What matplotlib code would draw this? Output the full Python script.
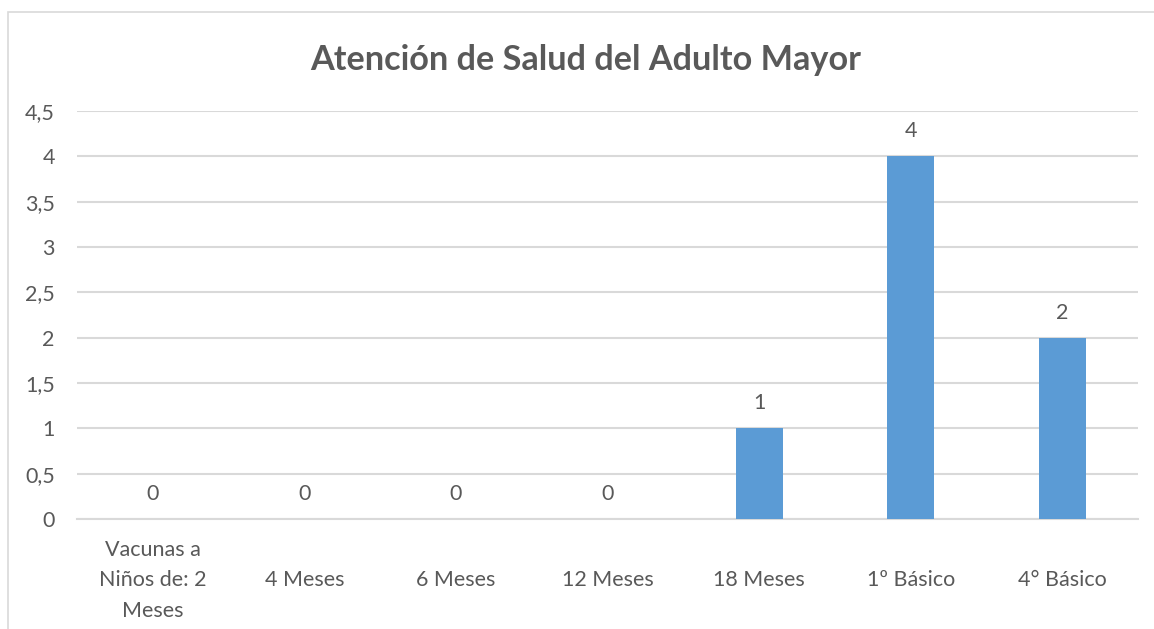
import matplotlib
matplotlib.use("Agg")
import matplotlib.pyplot as plt
from matplotlib.patches import Rectangle
from matplotlib.ticker import FuncFormatter

# Data
categories = ["Vacunas a\nNiños de: 2\nMeses", "4 Meses", "6 Meses", "12 Meses",
              "18 Meses", "1º Básico", "4° Básico"]
values = [0, 0, 0, 0, 1, 4, 2]
y_ticks = [0, 0.5, 1, 1.5, 2, 2.5, 3, 3.5, 4, 4.5]
title = "Atención de Salud del Adulto Mayor"

text_color = "#595959"
grid_color = "#D9D9D9"
bar_color = "#5B9BD5"

plt.rcParams['font.family'] = ['Lato', 'DejaVu Sans']

fig = plt.figure(figsize=(11.54, 6.29), dpi=100)
fig.patch.set_facecolor("white")

# outer chart frame (Excel style)
fig.patches.append(Rectangle((8 / 1154, -0.1), 1.2, 1 - 12 / 629 + 0.1,
                             transform=fig.transFigure, fill=False,
                             edgecolor=grid_color, linewidth=1.2))

ax = fig.add_axes([77 / 1154, 110 / 629, (1138 - 77) / 1154, (519 - 111) / 629])

x = range(len(categories))
bars = ax.bar(x, values, width=0.31, color=bar_color, zorder=3)

ax.set_xlim(-0.5, len(categories) - 0.5)
ax.set_ylim(0, 4.5)
ax.set_yticks(y_ticks)
ax.yaxis.set_major_formatter(FuncFormatter(lambda v, p: f"{v:g}".replace(".", ",")))
ax.grid(axis="y", color=grid_color, linewidth=1.5, zorder=0)
ax.set_axisbelow(True)

for s in ["top", "right", "left"]:
    ax.spines[s].set_visible(False)
ax.spines["bottom"].set_color(grid_color)
ax.spines["bottom"].set_linewidth(1.5)

ax.tick_params(axis="y", length=0, pad=16, labelsize=15.5, labelcolor=text_color)
ax.tick_params(axis="x", length=0, pad=44, labelsize=15.5, labelcolor=text_color)
ax.set_xticks(list(x))
ax.set_xticklabels(categories, linespacing=1.66)
for lbl in ax.get_xticklabels():
    lbl.set_verticalalignment("center")
    lbl.set_horizontalalignment("center")
    lbl.set_multialignment("center")

for rect, v in zip(bars, values):
    ax.annotate(f"{v}", (rect.get_x() + rect.get_width() / 2, v),
                xytext=(0, 18), textcoords="offset points",
                ha="center", va="center", fontsize=15.5, color=text_color)

fig.text(586 / 1154, 1 - 60 / 629, title, ha="center", va="center",
         fontsize=24.7, fontweight="bold", color=text_color)

fig.savefig("out.png", dpi=100)
